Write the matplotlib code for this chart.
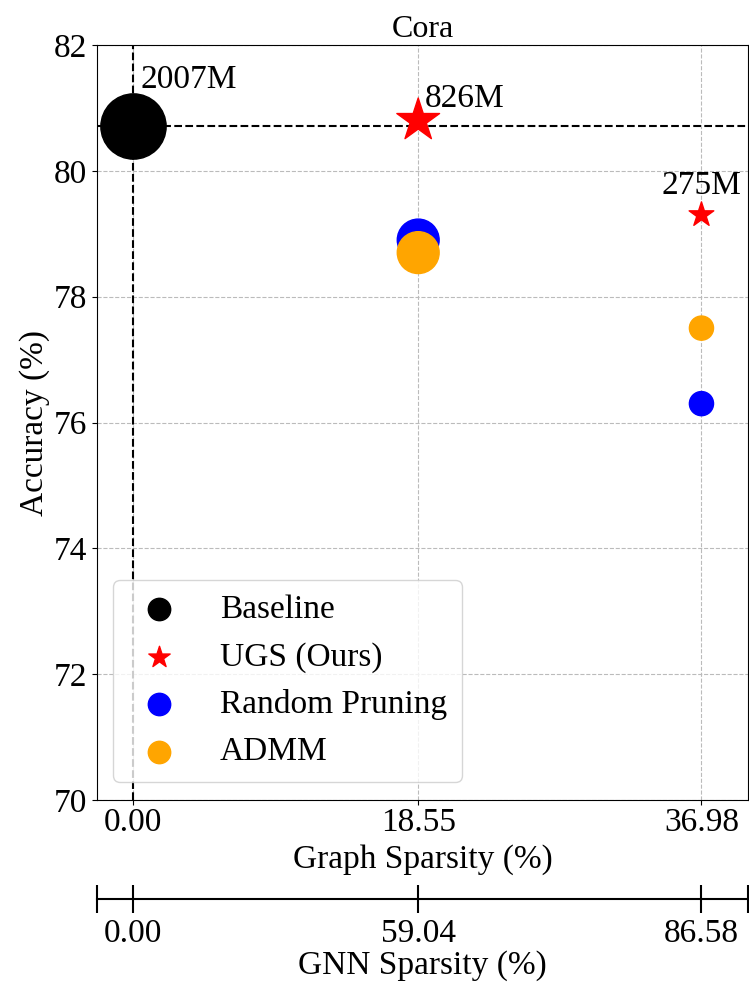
import matplotlib
matplotlib.use("Agg")
import matplotlib.pyplot as plt

plt.rcParams['font.family'] = ['Liberation Serif', 'DejaVu Serif']
plt.rcParams['mathtext.fontset'] = 'stix'

# Data
graph_sparsity = [0.00, 18.55, 36.98]
gnn_sparsity = ["0.00", "59.04", "86.58"]
baseline_acc = 80.72
baseline_flops = 2007
ugs_x = [18.55, 36.98]
ugs_acc = [80.80, 79.30]
ugs_flops = [826, 275]
random_acc = [78.90, 76.30]
admm_acc = [78.70, 77.50]
flops_labels = ["2007M", "826M", "275M"]

size_scale = 1.1
fs = 24

fig = plt.figure(figsize=(7.49, 9.86), dpi=100)
ax = fig.add_axes([0.1295, 0.1886, 0.869, 0.7658])

ax.axhline(baseline_acc, color='black', ls='--', lw=1.5, zorder=1)
ax.axvline(0.0, color='black', ls='--', lw=1.5, zorder=1)

ax.scatter([0.0], [baseline_acc], s=baseline_flops * size_scale, c='black',
           marker='o', label='Baseline', zorder=3)
ax.scatter(ugs_x, ugs_acc, s=[f * size_scale * 1.15 for f in ugs_flops], c='red',
           marker='*', label='UGS (Ours)', zorder=4)
ax.scatter(ugs_x, random_acc, s=[f * size_scale for f in ugs_flops], c='blue',
           marker='o', label='Random Pruning', zorder=3)
ax.scatter(ugs_x, admm_acc, s=[f * size_scale for f in ugs_flops], c='orange',
           marker='o', label='ADMM', zorder=3)

ax.text(0.45, 81.44, flops_labels[0], fontsize=fs, va='center', ha='left')
ax.text(19.0, 81.14, flops_labels[1], fontsize=fs, va='center', ha='left')
ax.text(36.98, 79.76, flops_labels[2], fontsize=fs, va='center', ha='center')

ax.set_xlim(-2.35, 40.0)
ax.set_ylim(70, 82)
ax.set_xticks(graph_sparsity)
ax.set_xticklabels([f"{v:.2f}" for v in graph_sparsity])
ax.set_yticks([70, 72, 74, 76, 78, 80, 82])
ax.tick_params(labelsize=fs)
ax.tick_params(axis='x', pad=2)
ax.grid(True, color='#bbbbbb', ls='--', lw=0.8)
ax.set_axisbelow(True)
ax.set_xlabel('Graph Sparsity (%)', fontsize=fs, labelpad=4)
ax.set_ylabel('Accuracy (%)', fontsize=fs, labelpad=3)
ax.set_title('Cora', fontsize=23, pad=5.5)

leg = ax.legend(loc='lower left', fontsize=fs, scatterpoints=1,
                borderpad=0.44, labelspacing=0.5, handlelength=1.88,
                handletextpad=0.89, borderaxespad=0,
                bbox_to_anchor=(16 / 651, 18 / 755), fancybox=True)
for h in leg.legend_handles:
    h.set_sizes([260])

# GNN sparsity axis below the graph sparsity axis
ax2 = ax.twiny()
ax2.set_xlim(ax.get_xlim())
ax2.xaxis.set_ticks_position('bottom')
ax2.xaxis.set_label_position('bottom')
ax2.spines['bottom'].set_position(('outward', 71))
for side in ['top', 'left', 'right']:
    ax2.spines[side].set_visible(False)
ax2.spines['bottom'].set_linewidth(1.5)
lim = ax.get_xlim()
ax2.set_xticks([lim[0]] + graph_sparsity + [lim[1]])
ax2.set_xticklabels([''] + gnn_sparsity + [''])
ax2.tick_params(axis='x', direction='inout', length=20, width=1.5,
                labelsize=fs, pad=4)
ax2.set_xlabel('GNN Sparsity (%)', fontsize=fs, labelpad=1)

fig.savefig('out.png', dpi=100)
